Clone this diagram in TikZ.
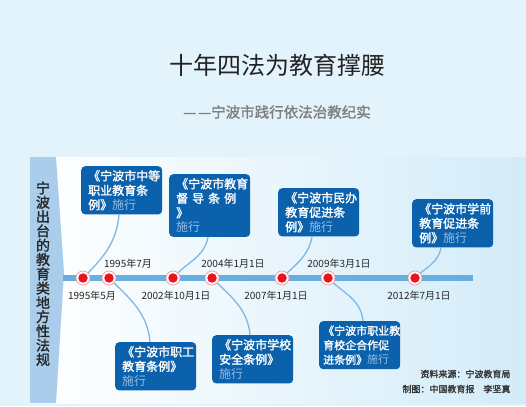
\documentclass[tikz,border=0pt]{standalone}
\usepackage{fontspec}
\setmainfont{Noto Sans CJK SC}
\newfontfamily\cjk{Noto Sans CJK SC}
\newfontfamily\cjkb[FakeBold=1.6]{Noto Sans CJK SC}
\usetikzlibrary{calc}
\definecolor{bgblue}{HTML}{E3F3FB}
\definecolor{panelr}{HTML}{D3ECF9}
\definecolor{bandblue}{HTML}{A9CDEB}
\definecolor{barblue}{HTML}{6AAEE0}
\definecolor{boxblue}{HTML}{0B61AB}
\definecolor{shixing}{HTML}{93BDE8}
\definecolor{linkblue}{HTML}{7DB8E6}
\definecolor{dotred}{HTML}{E8141E}
\definecolor{ringred}{HTML}{F09AA0}
\definecolor{titlegray}{HTML}{222222}
\definecolor{subgray}{HTML}{7F7F7F}
\tikzset{
  lawbox/.style={fill=boxblue, rounded corners=4pt, text=white, align=left,
    anchor=north west, minimum width=81pt, minimum height=48pt,
    inner xsep=7pt, inner ysep=4pt, font=\cjkb\fontsize{12}{14.5}\selectfont,
    text width=67pt},
  evdot/.style={circle, fill=dotred, draw=white, line width=1.2pt, minimum size=11pt, inner sep=0pt},
  datelbl/.style={font=\cjk\fontsize{10}{12}\selectfont, text=black!85},
  link/.style={draw=linkblue, line width=1.3pt},
  srctext/.style={font=\cjkb\fontsize{9}{11}\selectfont, text=black!80, anchor=east},
  bandchar/.style={font=\cjkb\fontsize{14}{15}\selectfont, text=black!85}
}
\newcommand{\sx}[1]{\textcolor{shixing}{\cjk #1}}
\begin{document}
\begin{tikzpicture}[x=1pt,y=-1pt]
\useasboundingbox (0,0) rectangle (526,406);
\fill[bgblue] (0,0) rectangle (526,406);
% panel
\shade[left color=white, right color=panelr] (30,157) rectangle (526,403);
\fill[bandblue] (30,157) -- (56,157) -- (64,272) -- (56,403) -- (30,403) -- cycle;
% title
\node[font=\cjk\fontsize{24}{28}\selectfont, text=titlegray] (title) at (277,65) {十年四法为教育撑腰};
\node[font=\cjkb\fontsize{14.5}{16}\selectfont, text=subgray] (sub) at (277,112) {—\kern2pt—宁波市践行依法治教纪实};
% band text
\foreach \c [count=\i from 0] in {宁,波,出,台,的,教,育,类,地,方,性,法,规}{
  \node[bandchar] (band\i) at (43,{188+\i*14.3}) {\c};
}
% bar
\fill[barblue] (63,275) rectangle (473,281);
% dot positions
\coordinate (p1) at (83,278);
\coordinate (p2) at (109,278);
\coordinate (p3) at (173,278);
\coordinate (p4) at (212,278);
\coordinate (p5) at (282,278);
\coordinate (p6) at (328,278);
\coordinate (p7) at (415,278);
% boxes
\node[lawbox] (b1) at (81,166) {《宁波市中等\\职业教育条\\例》\sx{施行}};
\node[lawbox] (b2) at (169,174) {《宁波市教育\\督 导 条 例 》\\\sx{施行}};
\node[lawbox] (b3) at (278,188) {《宁波市民办\\教育促进条\\例》\sx{施行}};
\node[lawbox] (b4) at (412,199) {《宁波市学前\\教育促进条\\例》\sx{施行}};
\node[lawbox] (b5) at (115,342) {《宁波市职工\\教育条例》\\\sx{施行}};
\node[lawbox] (b6) at (212,335) {《宁波市学校\\安全条例》\\\sx{施行}};
\node[lawbox, font=\cjkb\fontsize{11}{14.5}\selectfont, inner xsep=4pt, text width=73pt] (b7) at (319,321) {《宁波市职业教\\育校企合作促\\进条例》\sx{施行}};
% links
\draw[link] (p1) to[out=45,in=-95] ([xshift=38pt]b1.south west);
\draw[link] (p3) to[out=50,in=-100] ([xshift=39pt]b2.south west);
\draw[link] (p5) to[out=45,in=-100] ([xshift=34pt]b3.south west);
\draw[link] (p7) to[out=45,in=-100] ([xshift=29pt]b4.south west);
\draw[link] (p2) to[out=-45,in=95] ([xshift=35pt]b5.north west);
\draw[link] (p4) to[out=-45,in=95] ([xshift=38pt]b6.north west);
\draw[link] (p6) to[out=-45,in=95] ([xshift=44pt]b7.north west);
% dots
\foreach \p in {p1,p2,p3,p4,p5,p6,p7}{
  \fill[white] (\p) circle (7pt);
  \draw[ringred, line width=0.7pt] (\p) circle (7pt);
  \node[evdot] at (\p) {};
}
% date labels
\node[datelbl] (t1) at (92,296) {1995年5月};
\node[datelbl] (t2) at (128,264) {1995年7月};
\node[datelbl] (t3) at (176,296) {2002年10月1日};
\node[datelbl] (t4) at (233,264) {2004年1月1日};
\node[datelbl] (t5) at (276,296) {2007年1月1日};
\node[datelbl] (t6) at (339,264) {2009年3月1日};
\node[datelbl] (t7) at (419,296) {2012年7月1日};
% source
\node[srctext] (s1) at (514,374) {资料来源：宁波教育局};
\node[srctext] (s2) at (514,389) {制图：中国教育报\quad 李坚真};
\end{tikzpicture}
\end{document}
